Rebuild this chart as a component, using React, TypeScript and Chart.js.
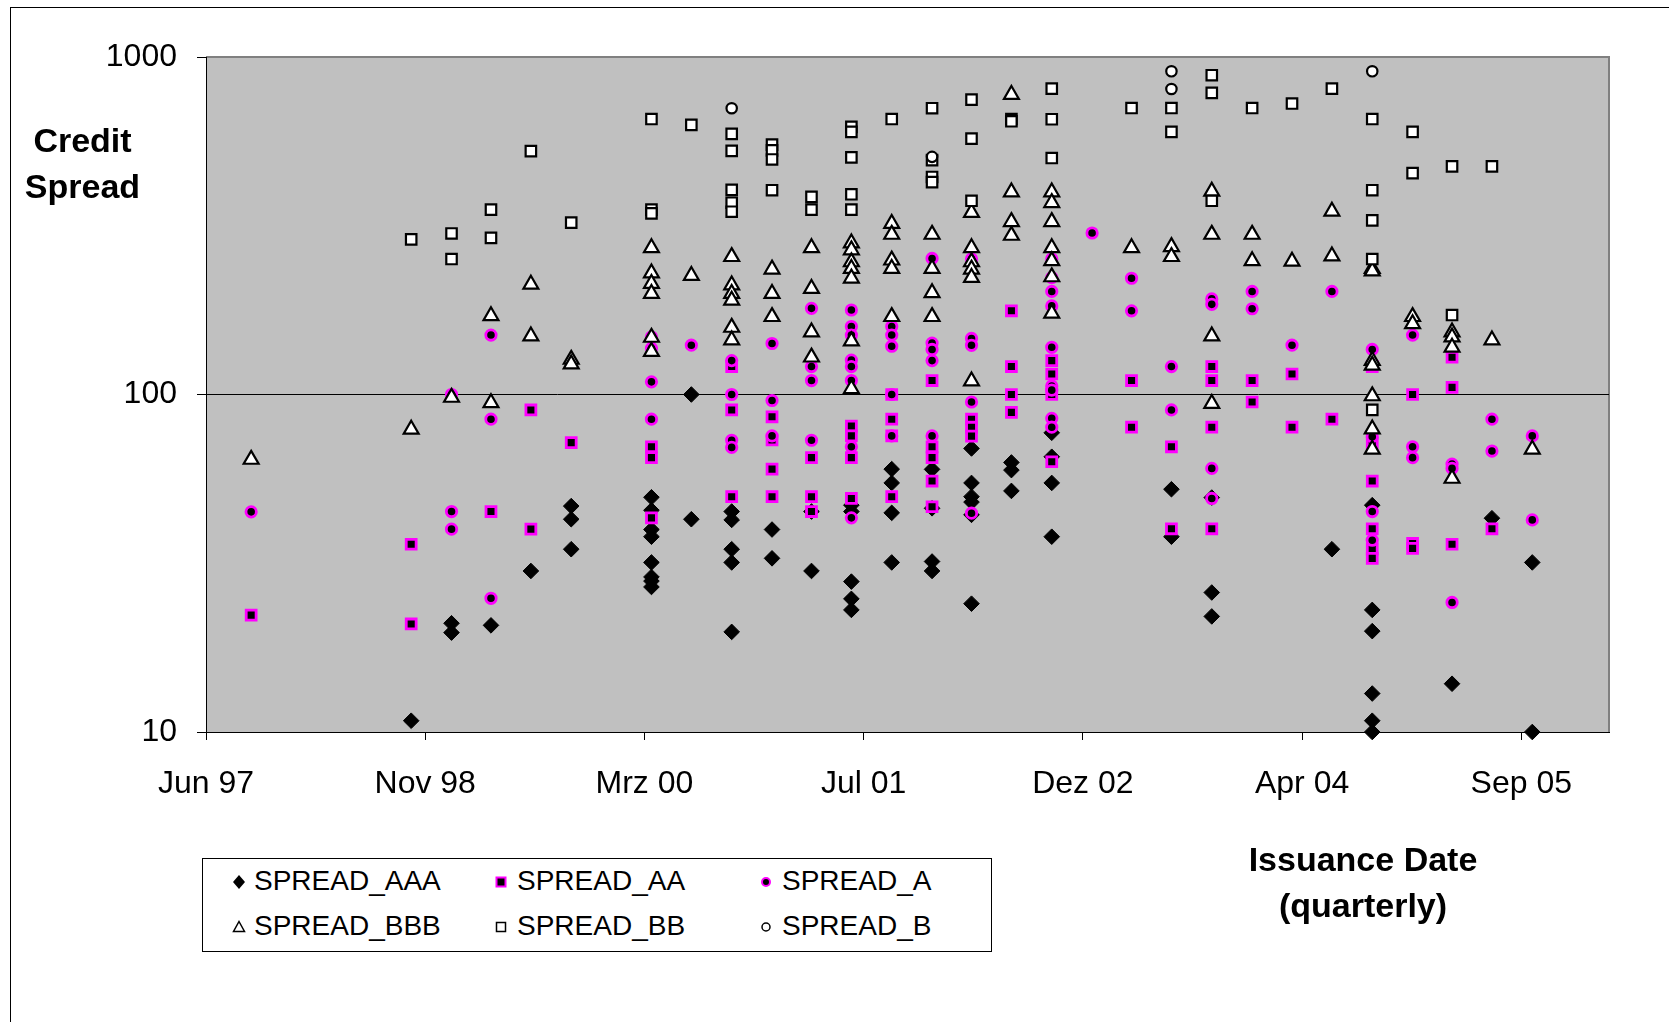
import React, { useEffect, useRef } from "react";
import { Chart, registerables } from "chart.js";

Chart.register(...registerables);

// ---------- data ----------
const X_TICK_SERIALS = [35600, 36100, 36600, 37100, 37600, 38100, 38600];
const Y_TICKS = [10, 100, 1000];
const MONTHS_DE = ["Jan", "Feb", "Mrz", "Apr", "Mai", "Jun", "Jul", "Aug", "Sep", "Okt", "Nov", "Dez"];

const SPREAD_AAA: [string, number[]][] = [
  ["1998Q3", [10.8]],
  ["1998Q4", [21, 19.7]],
  ["1999Q1", [20.7]],
  ["1999Q2", [30]],
  ["1999Q3", [46.7, 42.7, 34.8]],
  ["2000Q1", [49.6, 45.4, 39.8, 37.9, 31.8, 28.8, 28, 26.9]],
  ["2000Q2", [100, 42.7]],
  ["2000Q3", [45, 42.5, 34.8, 31.8, 19.8]],
  ["2000Q4", [39.8, 32.7]],
  ["2001Q1", [45, 30]],
  ["2001Q2", [47, 45, 27.9, 24.8, 23]],
  ["2001Q3", [60.1, 54.7, 44.6, 31.8]],
  ["2001Q4", [60, 46, 32, 30]],
  ["2002Q1", [69.2, 54.7, 49.8, 48, 44, 24]],
  ["2002Q2", [62.9, 59.7, 51.8]],
  ["2002Q3", [77, 65.4, 54.7, 37.9]],
  ["2003Q2", [52.4, 37.9]],
  ["2003Q3", [49.5, 25.9, 22]],
  ["2004Q2", [34.8]],
  ["2004Q3", [47, 23, 19.9, 13, 10.8, 10]],
  ["2005Q1", [13.9]],
  ["2005Q2", [43]],
  ["2005Q3", [31.8, 10]],
];

const SPREAD_AA: [string, number[]][] = [
  ["1997Q3", [22.2]],
  ["1998Q3", [36, 20.9]],
  ["1999Q1", [45]],
  ["1999Q2", [90, 39.9]],
  ["1999Q3", [72]],
  ["2000Q1", [70, 65, 43.1]],
  ["2000Q3", [121, 90, 49.8]],
  ["2000Q4", [85.9, 73.4, 60.1, 49.8]],
  ["2001Q1", [65, 49.8, 45]],
  ["2001Q2", [80.6, 75.4, 65, 49.2]],
  ["2001Q3", [100, 84.5, 75.4, 49.8]],
  ["2001Q4", [110, 70, 65, 55.4, 46.5]],
  ["2002Q1", [84.5, 80, 75.3]],
  ["2002Q2", [177, 121, 100, 88.5]],
  ["2002Q3", [126, 115, 100, 63.2]],
  ["2003Q1", [110, 80]],
  ["2003Q2", [70, 40]],
  ["2003Q3", [121, 110, 80, 40]],
  ["2003Q4", [110, 95]],
  ["2004Q1", [115, 80]],
  ["2004Q2", [84.5]],
  ["2004Q3", [121, 71.6, 55.4, 40, 34.8, 32.7]],
  ["2004Q4", [100, 36.2, 35]],
  ["2005Q1", [129, 105, 36]],
  ["2005Q2", [40]],
];

const SPREAD_A: [string, number[]][] = [
  ["1997Q3", [44.9]],
  ["1998Q4", [100, 45, 39.9]],
  ["1999Q1", [150, 84.5, 24.9]],
  ["2000Q1", [148, 137, 109, 84.5]],
  ["2000Q2", [140]],
  ["2000Q3", [126, 100, 73.2, 69.7]],
  ["2000Q4", [141.6, 96, 75.4]],
  ["2001Q1", [180, 121, 110, 73.2]],
  ["2001Q2", [178, 159, 150, 126.4, 121, 110, 70, 43.1]],
  ["2001Q3", [159, 150, 139, 100, 75.4]],
  ["2001Q4", [253, 142, 136, 126, 75.4]],
  ["2002Q1", [252, 146.6, 139.9, 95, 44.5]],
  ["2002Q3", [252, 222, 202, 183, 138, 106, 103, 85, 80]],
  ["2002Q4", [301]],
  ["2003Q1", [221, 177]],
  ["2003Q2", [121, 90]],
  ["2003Q3", [192, 185, 60.4, 49.2]],
  ["2003Q4", [202, 179.5]],
  ["2004Q1", [140]],
  ["2004Q2", [202]],
  ["2004Q3", [136, 75, 45, 37]],
  ["2004Q4", [150, 70, 65]],
  ["2005Q1", [62.2, 60.4, 24.2]],
  ["2005Q2", [84.5, 68]],
  ["2005Q3", [75.4, 42.5]],
];

const SPREAD_BBB: [string, number[]][] = [
  ["1997Q3", [64.2]],
  ["1998Q3", [78.8]],
  ["1998Q4", [98]],
  ["1999Q1", [171, 94.5]],
  ["1999Q2", [212, 149]],
  ["1999Q3", [127, 123]],
  ["2000Q1", [272, 229, 213, 199, 147.6, 134]],
  ["2000Q2", [225]],
  ["2000Q3", [256, 211, 199, 190, 158, 145]],
  ["2000Q4", [235, 199, 170]],
  ["2001Q1", [272, 206, 153, 129]],
  ["2001Q2", [281, 268, 247, 236, 221, 144, 104]],
  ["2001Q3", [321, 298, 250, 236, 170]],
  ["2001Q4", [298, 236, 200, 170]],
  ["2002Q1", [346, 272, 247, 235, 222, 109.6]],
  ["2002Q2", [774, 398, 325, 296]],
  ["2002Q3", [398, 370, 325, 272, 249, 223, 174]],
  ["2003Q1", [272]],
  ["2003Q2", [274, 256]],
  ["2003Q3", [400, 298, 149, 94]],
  ["2003Q4", [298, 249]],
  ["2004Q1", [248]],
  ["2004Q2", [349, 257]],
  ["2004Q3", [236, 232, 126, 122, 99, 79, 68.8]],
  ["2004Q4", [170, 162]],
  ["2005Q1", [153, 148, 138, 56.4]],
  ["2005Q2", [145]],
  ["2005Q3", [68.8]],
];

const SPREAD_BB: [string, number[]][] = [
  ["1998Q3", [288]],
  ["1998Q4", [300, 252]],
  ["1999Q1", [353, 291]],
  ["1999Q2", [526]],
  ["1999Q3", [323]],
  ["2000Q1", [655, 353, 344]],
  ["2000Q2", [629]],
  ["2000Q3", [592, 527, 404, 370, 348]],
  ["2000Q4", [550, 529, 497, 403]],
  ["2001Q1", [385, 353]],
  ["2001Q2", [621, 600, 504, 392, 353]],
  ["2001Q3", [655]],
  ["2001Q4", [705, 495, 441, 426]],
  ["2002Q1", [748, 573, 375]],
  ["2002Q2", [655, 645]],
  ["2002Q3", [806, 654, 502]],
  ["2003Q1", [706]],
  ["2003Q2", [706, 600]],
  ["2003Q3", [883, 783, 375]],
  ["2003Q4", [706]],
  ["2004Q1", [728]],
  ["2004Q2", [806]],
  ["2004Q3", [655, 403, 328, 252, 90]],
  ["2004Q4", [600, 453]],
  ["2005Q1", [474, 172]],
  ["2005Q2", [474]],
];

const SPREAD_B: [string, number[]][] = [
  ["2000Q3", [705]],
  ["2001Q4", [506]],
  ["2003Q2", [907, 804]],
  ["2004Q3", [907]],
];

// ---------- helpers ----------
const FONT = "'Liberation Sans', Arial, sans-serif";

function quarterEndSerial(q: string): number {
  const y = parseInt(q.slice(0, 4), 10);
  const n = parseInt(q.slice(5), 10);
  const ms = Date.UTC(y, n * 3, 0);
  return Math.round(ms / 86400000) + 25569;
}

function serialToLabel(s: number): string {
  const d = new Date((s - 25569) * 86400000);
  return MONTHS_DE[d.getUTCMonth()] + " " + String(d.getUTCFullYear() % 100).padStart(2, "0");
}

function toPoints(series: [string, number[]][]) {
  return series.flatMap(([q, vals]) => vals.map((v) => ({ x: quarterEndSerial(q), y: v })));
}

const plotBg = {
  id: "plotBg",
  beforeDraw(chart: any) {
    const { ctx, chartArea } = chart;
    ctx.save();
    ctx.fillStyle = "#C0C0C0";
    ctx.fillRect(chartArea.left, chartArea.top, chartArea.right - chartArea.left, chartArea.bottom - chartArea.top);
    ctx.strokeStyle = "#808080";
    ctx.lineWidth = 2;
    ctx.beginPath();
    ctx.moveTo(chartArea.left, chartArea.top);
    ctx.lineTo(chartArea.right, chartArea.top);
    ctx.lineTo(chartArea.right, chartArea.bottom);
    ctx.stroke();
    ctx.restore();
  },
};

function LegendMarker({ kind }: { kind: string }) {
  const s = 16;
  const c = s / 2;
  let shape: any = null;
  if (kind === "AAA") shape = <polygon points={`${c},${c - 7} ${c + 6},${c} ${c},${c + 7} ${c - 6},${c}`} fill="#000" />;
  if (kind === "AA") shape = <rect x={c - 4.5} y={c - 4.5} width={9} height={9} fill="#000" stroke="#FF00FF" strokeWidth={2} />;
  if (kind === "A") shape = <circle cx={c} cy={c} r={4} fill="#000" stroke="#FF00FF" strokeWidth={2} />;
  if (kind === "BBB") shape = <polygon points={`${c},${c - 5.5} ${c + 5.5},${c + 4.5} ${c - 5.5},${c + 4.5}`} fill="#fff" stroke="#000" strokeWidth={1.5} />;
  if (kind === "BB") shape = <rect x={c - 4.5} y={c - 4.5} width={9} height={9} fill="#fff" stroke="#000" strokeWidth={1.5} />;
  if (kind === "B") shape = <circle cx={c} cy={c} r={4} fill="#fff" stroke="#000" strokeWidth={1.5} />;
  return (
    <svg width={s} height={s} style={{ position: "absolute", left: -c, top: -c }}>
      {shape}
    </svg>
  );
}

const LEGEND_ITEMS = [
  { kind: "AAA", label: "SPREAD_AAA", mx: 239, my: 882, tx: 254 },
  { kind: "AA", label: "SPREAD_AA", mx: 501, my: 882, tx: 517 },
  { kind: "A", label: "SPREAD_A", mx: 766, my: 882, tx: 782 },
  { kind: "BBB", label: "SPREAD_BBB", mx: 239, my: 927, tx: 254 },
  { kind: "BB", label: "SPREAD_BB", mx: 501, my: 927, tx: 517 },
  { kind: "B", label: "SPREAD_B", mx: 766, my: 927, tx: 782 },
];

export default function App() {
  const canvasRef = useRef<HTMLCanvasElement | null>(null);

  useEffect(() => {
    document.body.style.margin = "0";
    const canvas = canvasRef.current;
    if (!canvas) return;
    const common = { showLine: false, clip: false as any, pointHoverRadius: 0 };
    const chart = new Chart(canvas, {
      type: "scatter",
      data: {
        datasets: [
          {
            ...common,
            label: "SPREAD_AAA",
            data: toPoints(SPREAD_AAA),
            pointStyle: "rectRot",
            pointRadius: 7.8,
            pointBackgroundColor: "#000",
            pointBorderColor: "#000",
            pointBorderWidth: 1,
            order: 6,
          },
          {
            ...common,
            label: "SPREAD_AA",
            data: toPoints(SPREAD_AA),
            pointStyle: "rect",
            pointRadius: 7,
            pointBackgroundColor: "#000",
            pointBorderColor: "#FF00FF",
            pointBorderWidth: 2.8,
            order: 5,
          },
          {
            ...common,
            label: "SPREAD_A",
            data: toPoints(SPREAD_A),
            pointStyle: "circle",
            pointRadius: 5.2,
            pointBackgroundColor: "#000",
            pointBorderColor: "#FF00FF",
            pointBorderWidth: 2.8,
            order: 4,
          },
          {
            ...common,
            label: "SPREAD_BBB",
            data: toPoints(SPREAD_BBB),
            pointStyle: "triangle",
            pointRadius: 8.6,
            pointBackgroundColor: "#fff",
            pointBorderColor: "#000",
            pointBorderWidth: 2.2,
            order: 3,
          },
          {
            ...common,
            label: "SPREAD_BB",
            data: toPoints(SPREAD_BB),
            pointStyle: "rect",
            pointRadius: 7.4,
            pointBackgroundColor: "#fff",
            pointBorderColor: "#000",
            pointBorderWidth: 2.2,
            order: 2,
          },
          {
            ...common,
            label: "SPREAD_B",
            data: toPoints(SPREAD_B),
            pointStyle: "circle",
            pointRadius: 5.2,
            pointBackgroundColor: "#fff",
            pointBorderColor: "#000",
            pointBorderWidth: 2.2,
            order: 1,
          },
        ] as any,
      },
      options: {
        animation: false,
        responsive: false,
        maintainAspectRatio: false,
        events: [],
        layout: { padding: { top: 57, right: 60, left: 0, bottom: 0 } },
        plugins: { legend: { display: false }, tooltip: { enabled: false }, title: { display: false } },
        scales: {
          x: {
            type: "linear",
            min: 35600,
            max: 38800,
            afterBuildTicks: (s: any) => {
              s.ticks = X_TICK_SERIALS.map((v) => ({ value: v }));
            },
            afterFit: (s: any) => {
              s.height = 290;
            },
            ticks: {
              callback: (v: any) => serialToLabel(Number(v)),
              font: { family: FONT, size: 32 },
              color: "#000",
              padding: 25,
              maxRotation: 0,
              autoSkip: false,
            },
            grid: { drawOnChartArea: false, tickLength: 8, tickColor: "#000", lineWidth: 1 },
            border: { color: "#000", width: 1 },
          },
          y: {
            type: "logarithmic",
            min: 10,
            max: 1000,
            afterBuildTicks: (s: any) => {
              s.ticks = Y_TICKS.map((v) => ({ value: v }));
            },
            afterFit: (s: any) => {
              s.width = 206;
            },
            ticks: {
              callback: (v: any) => String(v),
              font: { family: FONT, size: 32 },
              color: "#000",
              padding: 20,
              autoSkip: false,
            },
            grid: {
              color: (ctx: any) => (ctx.tick && ctx.tick.value === 100 ? "#000" : "rgba(0,0,0,0)"),
              tickColor: "#000",
              tickLength: 9,
              lineWidth: 1,
            },
            border: { color: "#000", width: 1 },
          },
        },
      } as any,
      plugins: [plotBg],
    });
    return () => chart.destroy();
  }, []);

  return (
    <div style={{ position: "absolute", left: 0, top: 0, width: 1669, height: 1022, overflow: "hidden", background: "#fff", fontFamily: FONT }}>
      <div style={{ position: "absolute", left: 10, top: 7, width: 1700, height: 1100, borderTop: "1px solid #000", borderLeft: "1px solid #000" }} />
      <canvas ref={canvasRef} width={1669} height={1022} style={{ position: "absolute", left: 0, top: 0, width: 1669, height: 1022 }} />
      <div style={{ position: "absolute", left: 0, top: 117, width: 165, textAlign: "center", fontWeight: "bold", fontSize: 34, lineHeight: "46px", color: "#000" }}>
        Credit
        <br />
        Spread
      </div>
      <div style={{ position: "absolute", left: 1163, top: 836, width: 400, textAlign: "center", fontWeight: "bold", fontSize: 34, lineHeight: "46px", color: "#000" }}>
        Issuance Date
        <br />
        (quarterly)
      </div>
      <div style={{ position: "absolute", left: 202, top: 858, width: 790, height: 94, border: "1px solid #000", boxSizing: "border-box", background: "#fff" }} />
      {LEGEND_ITEMS.map((it) => (
        <React.Fragment key={it.kind}>
          <div style={{ position: "absolute", left: it.mx, top: it.my, width: 0, height: 0 }}>
            <LegendMarker kind={it.kind} />
          </div>
          <div style={{ position: "absolute", left: it.tx, top: it.my - 17, fontSize: 28, lineHeight: "32px", color: "#000", whiteSpace: "nowrap" }}>
            {it.label}
          </div>
        </React.Fragment>
      ))}
    </div>
  );
}
